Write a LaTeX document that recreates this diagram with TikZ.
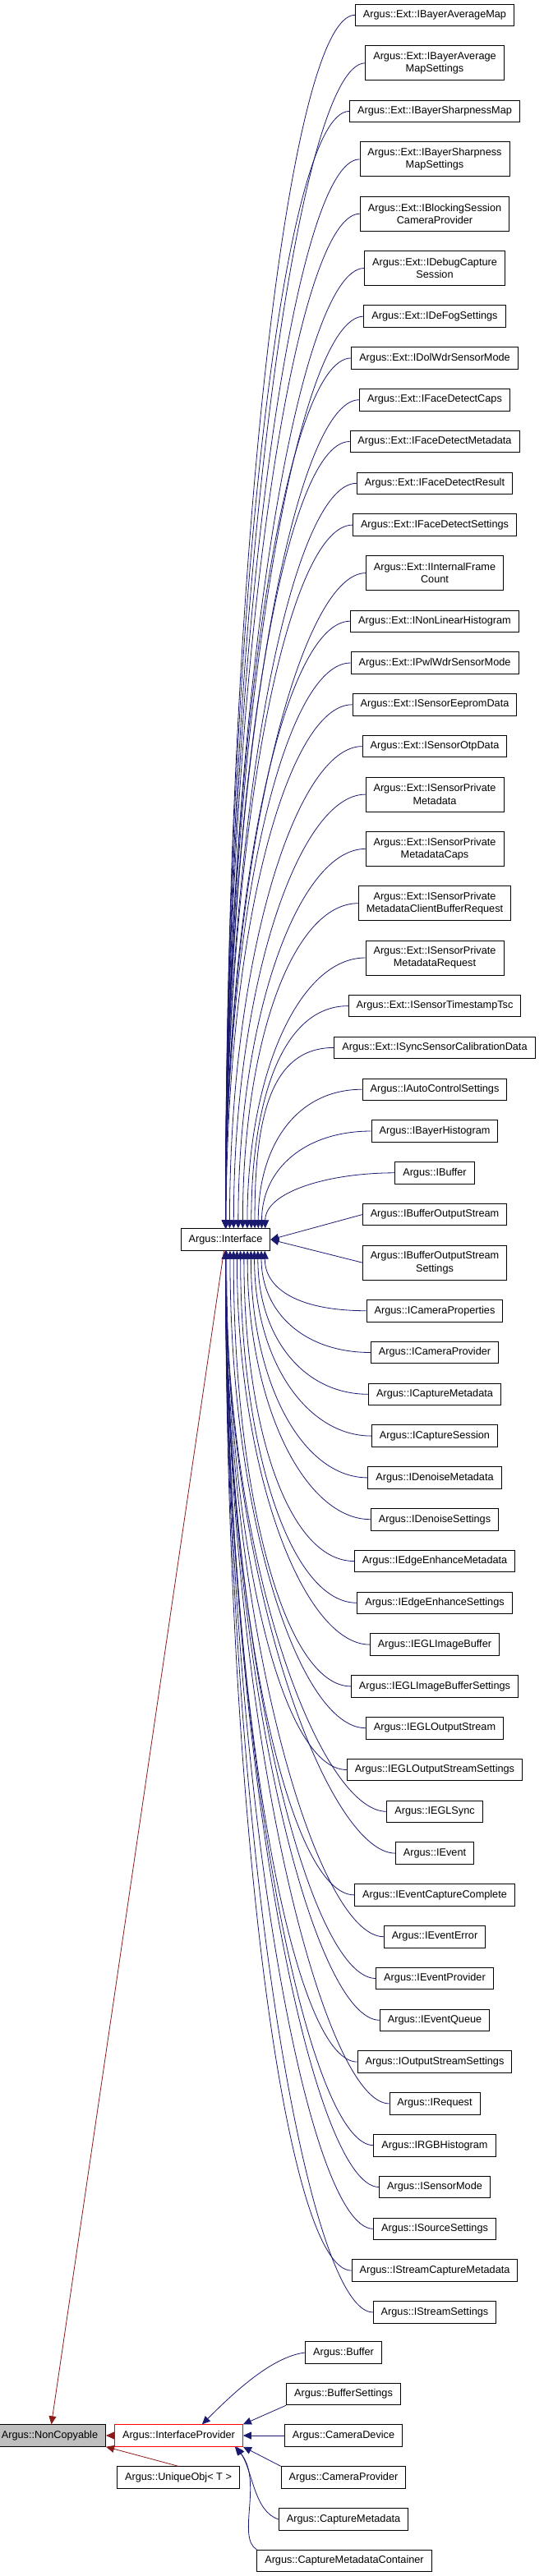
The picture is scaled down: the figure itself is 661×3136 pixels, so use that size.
\documentclass[tikz,border=0pt]{standalone}
\usepackage{fontspec}
\setmainfont{Liberation Sans}
\usetikzlibrary{arrows.meta}
\definecolor{eblue}{HTML}{191970}
\definecolor{ered}{HTML}{8B1A1A}
\begin{document}
\begin{tikzpicture}[x=1pt,y=-1pt,
  box/.style={draw=black,line width=0.9pt,fill=white,font=\fontsize{12.7}{15.3}\selectfont,align=center,inner xsep=9.5pt,inner ysep=0pt,minimum height=26.5pt},
  dbl/.style={box,minimum height=42pt},
  be/.style={eblue,line width=0.8pt,{Triangle[length=10pt,width=9pt]}-},
  re/.style={ered,line width=0.8pt,{Triangle[length=10pt,width=9pt]}-}]
\useasboundingbox (0,0) rectangle (661,3136);
\node[box] (iface) at (274.5,1509) {Argus::Interface};
\node[box,fill={rgb,255:red,191;green,191;blue,191}] (nc) at (60.5,2965) {Argus::NonCopyable};
\node[box,draw=red] (ip) at (217.5,2965) {Argus::InterfaceProvider};
\node[box] (uo) at (217,3016) {Argus::UniqueObj< T >};
\foreach \i/\y/\t/\s in {
1/18.3/Argus::Ext::IBayerAverageMap/box,
2/76.8/Argus::Ext::IBayerAverage\\MapSettings/dbl,
3/135.4/Argus::Ext::IBayerSharpnessMap/box,
4/193.9/Argus::Ext::IBayerSharpness\\MapSettings/dbl,
5/260.2/Argus::Ext::IBlockingSession\\CameraProvider/dbl,
6/326.5/Argus::Ext::IDebugCapture\\Session/dbl,
7/385.1/Argus::Ext::IDeFogSettings/box,
8/435.9/Argus::Ext::IDolWdrSensorMode/box,
9/486.7/Argus::Ext::IFaceDetectCaps/box,
10/537.5/Argus::Ext::IFaceDetectMetadata/box,
11/588.3/Argus::Ext::IFaceDetectResult/box,
12/639.1/Argus::Ext::IFaceDetectSettings/box,
13/697.6/Argus::Ext::IInternalFrame\\Count/dbl,
14/756.2/Argus::Ext::INonLinearHistogram/box,
15/807.0/Argus::Ext::IPwlWdrSensorMode/box,
16/857.8/Argus::Ext::ISensorEepromData/box,
17/908.6/Argus::Ext::ISensorOtpData/box,
18/967.1/Argus::Ext::ISensorPrivate\\Metadata/dbl,
19/1033.4/Argus::Ext::ISensorPrivate\\MetadataCaps/dbl,
20/1099.7/Argus::Ext::ISensorPrivate\\MetadataClientBufferRequest/dbl,
21/1166.0/Argus::Ext::ISensorPrivate\\MetadataRequest/dbl,
22/1224.6/Argus::Ext::ISensorTimestampTsc/box,
23/1275.4/Argus::Ext::ISyncSensorCalibrationData/box,
24/1326.2/Argus::IAutoControlSettings/box,
25/1377.0/Argus::IBayerHistogram/box,
26/1427.8/Argus::IBuffer/box,
27/1478.6/Argus::IBufferOutputStream/box,
28/1537.1/Argus::IBufferOutputStream\\Settings/dbl,
29/1595.7/Argus::ICameraProperties/box,
30/1646.5/Argus::ICameraProvider/box,
31/1697.3/Argus::ICaptureMetadata/box,
32/1748.1/Argus::ICaptureSession/box,
33/1798.9/Argus::IDenoiseMetadata/box,
34/1849.7/Argus::IDenoiseSettings/box,
35/1900.5/Argus::IEdgeEnhanceMetadata/box,
36/1951.3/Argus::IEdgeEnhanceSettings/box,
37/2002.1/Argus::IEGLImageBuffer/box,
38/2052.9/Argus::IEGLImageBufferSettings/box,
39/2103.7/Argus::IEGLOutputStream/box,
40/2154.5/Argus::IEGLOutputStreamSettings/box,
41/2205.3/Argus::IEGLSync/box,
42/2256.1/Argus::IEvent/box,
43/2306.9/Argus::IEventCaptureComplete/box,
44/2357.7/Argus::IEventError/box,
45/2408.5/Argus::IEventProvider/box,
46/2459.3/Argus::IEventQueue/box,
47/2510.1/Argus::IOutputStreamSettings/box,
48/2560.9/Argus::IRequest/box,
49/2611.7/Argus::IRGBHistogram/box,
50/2662.5/Argus::ISensorMode/box,
51/2713.3/Argus::ISourceSettings/box,
52/2764.1/Argus::IStreamCaptureMetadata/box,
53/2814.9/Argus::IStreamSettings/box}{
  \node[\s] (n\i) at (529,\y) {\t};
  \pgfmathsetmacro\dy{\y-1509}
  \pgfmathsetmacro\ady{abs(\dy)}
  \pgfmathsetmacro\sh{max(0,55-\ady/12)}
  \pgfmathsetmacro\cd{0.55*\ady}
  \ifdim\ady pt<60pt
    \draw[be] (iface.east) -- (n\i.west);
  \else\ifdim\dy pt<0pt
    \draw[be] ([xshift=\sh pt]iface.north) .. controls +(0,-\cd) and +(-80,0) .. (n\i.west);
  \else
    \draw[be] ([xshift=\sh pt]iface.south) .. controls +(0,\cd) and +(-80,0) .. (n\i.west);
  \fi\fi
}
\node[box] (b1) at (418,2864) {Argus::Buffer};
\node[box] (b2) at (418,2914.5) {Argus::BufferSettings};
\node[box] (b3) at (418,2965) {Argus::CameraDevice};
\node[box] (b4) at (418,3016) {Argus::CameraProvider};
\node[box] (b5) at (418,3067) {Argus::CaptureMetadata};
\node[box] (b6) at (419,3117.5) {Argus::CaptureMetadataContainer};
\coordinate (t1) at ([xshift=-50pt]ip.north east);
\draw[be] (t1) .. controls +(40,-40) and +(-40,5) .. (b1.west);
\draw[be] (ip.north east) -- (b2.south west);
\draw[be] (ip) -- (b3);
\draw[be] (ip.south east) -- (b4.north west);
\coordinate (t5) at ([xshift=-8pt]ip.south east);
\draw[be] (t5) .. controls +(20,30) and +(-30,-10) .. (b5.west);
\coordinate (t6) at ([xshift=-10pt]ip.south east);
\draw[be] (t6) .. controls +(35,40) and +(-25,-15) .. (b6.north west);
\draw[re] (nc) -- (iface);
\draw[re] (nc) -- (ip);
\draw[re] (nc.south east) -- (uo.north);
\end{tikzpicture}
\end{document}
